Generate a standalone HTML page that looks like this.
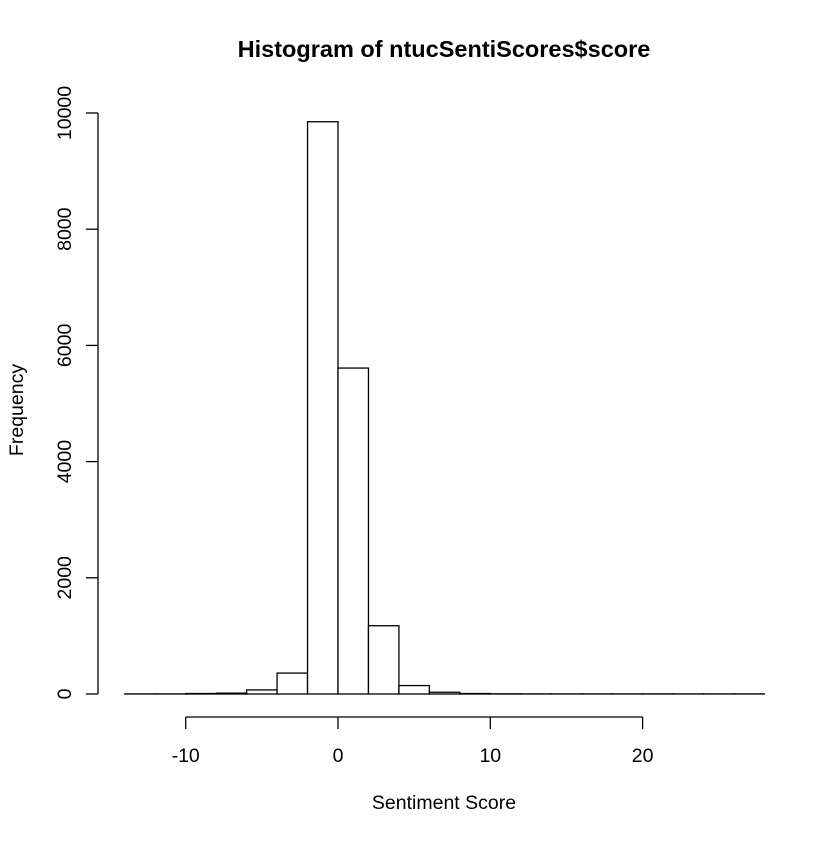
<!DOCTYPE html>
<html><head><meta charset="utf-8"><style>
html,body{margin:0;padding:0;background:#fff;}
svg text{font-family:"Liberation Sans",Arial,sans-serif;fill:#000;}
</style></head><body>
<svg id="chart" width="840" height="840" viewBox="0 0 840 840">
<rect width="840" height="840" fill="#fff"/>
<text x="444" y="57" font-size="23.5" font-weight="bold" text-anchor="middle">Histogram of ntucSentiScores$score</text>
<text x="444" y="809" font-size="19.5" text-anchor="middle">Sentiment Score</text>
<text transform="translate(23,410) rotate(-90)" font-size="19.5" text-anchor="middle">Frequency</text>
<g id="bars"></g>
<g id="xaxis"></g>
<g id="yaxis"></g>
</svg>
<script>
const binStarts = [-14,-12,-10,-8,-6,-4,-2,0,2,4,6,8,10,12,14,16,18,20,22,24,26];
const counts = [0,0,8,15,70,360,9850,5610,1175,145,30,8,3,2,1,1,1,2,1,1,1];
const xTicks = [-10,0,10,20];
const yTicks = [0,2000,4000,6000,8000,10000];
const binWidth = 2;
const NS = "http://www.w3.org/2000/svg";
function sx(v){return 338 + (v-0)*15.23;}
function sy(v){return 694 - v*0.0581;}
const bars = document.getElementById('bars');
binStarts.forEach((b,i)=>{
  const r = document.createElementNS(NS,'rect');
  
  
  const x0 = sx(b), x1 = sx(b+binWidth), y = sy(counts[i]);
  r.setAttribute('x', x0); r.setAttribute('y', Math.min(y,693.9));
  r.setAttribute('width', x1-x0); r.setAttribute('height', Math.max(0.1,694-y));
  r.setAttribute('fill','#fff'); r.setAttribute('stroke','#000'); r.setAttribute('stroke-width','1.3');
  bars.appendChild(r);
});
const xa = document.getElementById('xaxis');
function line(g,x1,y1,x2,y2,name){
  const l=document.createElementNS(NS,'line');
  
  
  l.setAttribute('x1',x1);l.setAttribute('y1',y1);l.setAttribute('x2',x2);l.setAttribute('y2',y2);
  l.setAttribute('stroke','#000');l.setAttribute('stroke-width','1.3');
  g.appendChild(l);
}
line(xa, sx(xTicks[0]),717,sx(xTicks[xTicks.length-1]),717,'x-axis-line');
xTicks.forEach(t=>{
  line(xa,sx(t),717,sx(t),729,'x-tick');
  const tx=document.createElementNS(NS,'text');
  
  
  tx.setAttribute('x',sx(t));tx.setAttribute('y',762);tx.setAttribute('font-size','19.5');tx.setAttribute('text-anchor','middle');
  tx.textContent=t; xa.appendChild(tx);
});
const ya = document.getElementById('yaxis');
line(ya,98,sy(yTicks[0]),98,sy(yTicks[yTicks.length-1]),'y-axis-line');
yTicks.forEach(t=>{
  line(ya,86,sy(t),98,sy(t),'y-tick');
  const tx=document.createElementNS(NS,'text');
  
  
  tx.setAttribute('transform','translate(71,'+sy(t)+') rotate(-90)');
  tx.setAttribute('font-size','19.5');tx.setAttribute('text-anchor','middle');
  tx.textContent=t; ya.appendChild(tx);
});
</script>
</body></html>
